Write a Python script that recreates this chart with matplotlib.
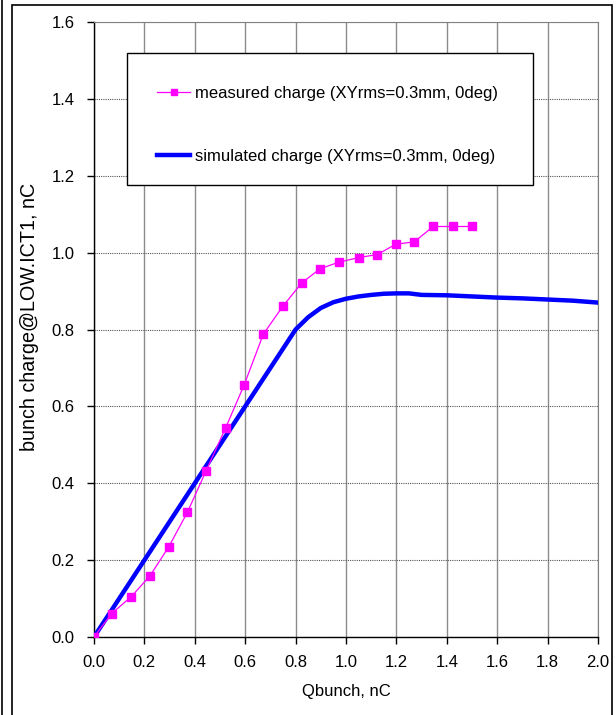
import matplotlib.pyplot as plt
from matplotlib.patches import Rectangle
from matplotlib.lines import Line2D

plt.rcParams['font.family'] = ['Liberation Sans', 'DejaVu Sans']

# measured charge
q_meas = [0.0, 0.07, 0.148, 0.222, 0.297, 0.371, 0.444, 0.523, 0.596, 0.672, 0.750,
          0.824, 0.897, 0.971, 1.050, 1.124, 1.198, 1.271, 1.346, 1.426, 1.499]
c_meas = [0.0, 0.061, 0.105, 0.159, 0.235, 0.325, 0.431, 0.545, 0.656, 0.788, 0.861,
          0.921, 0.958, 0.975, 0.987, 0.995, 1.022, 1.028, 1.068, 1.068, 1.068]

# simulated charge
q_sim = [0.0, 0.2, 0.4, 0.6, 0.8, 0.85, 0.9, 0.95, 1.0, 1.05, 1.1, 1.15, 1.2, 1.25,
         1.3, 1.4, 1.5, 1.6, 1.7, 1.8, 1.9, 2.0]
c_sim = [0.0, 0.2, 0.4, 0.6, 0.8, 0.832, 0.856, 0.871, 0.880, 0.886, 0.890, 0.893,
         0.894, 0.894, 0.890, 0.889, 0.886, 0.883, 0.881, 0.878, 0.875, 0.870]

fs = 12
fig = plt.figure(figsize=(6.16, 7.15), dpi=100)
ax = fig.add_axes([94/616, 1-637/715, 504/616, 615/715])

ax.plot(q_meas, c_meas, color='#FF00FF', lw=0.9, marker='s', ms=5.5,
        label='measured charge (XYrms=0.3mm, 0deg)', zorder=4)
ax.plot(q_sim, c_sim, color='#0000FF', lw=3.2,
        label='simulated charge (XYrms=0.3mm, 0deg)', zorder=3)

ax.set_xlim(0, 2.0)
ax.set_ylim(0, 1.6)
ax.set_xticks([i*0.2 for i in range(11)])
ax.set_yticks([i*0.2 for i in range(9)])
ax.set_xticklabels(['%.1f' % (i*0.2) for i in range(11)])
ax.set_yticklabels(['%.1f' % (i*0.2) for i in range(9)])
ax.tick_params(labelsize=fs, direction='out', length=5, width=1)
ax.tick_params(axis='x', pad=8)
ax.tick_params(axis='y', pad=9)
ax.xaxis.grid(True, color='#8c8c8c', lw=1)
ax.yaxis.grid(True, color='#555555', lw=0.8, linestyle=(0, (1, 1)))
ax.set_axisbelow(True)
for s in ['top', 'right']:
    ax.spines[s].set_color('#808080')
for s in ['left', 'bottom']:
    ax.spines[s].set_color('black')
    ax.spines[s].set_linewidth(1)

ax.set_xlabel('Qbunch, nC', fontsize=fs, labelpad=10)
ax.set_ylabel('bunch charge@LOW.ICT1, nC', fontsize=14.2)
ax.yaxis.set_label_coords(-0.109, 0.52)

# legend box
ax.add_patch(Rectangle((127/616, 1-185/715), 406/616, 132/715, transform=fig.transFigure,
                       facecolor='white', edgecolor='black', lw=1, zorder=5))
h1 = Line2D([], [], color='#FF00FF', lw=0.9, marker='s', ms=4)
h2 = Line2D([], [], color='#0000FF', lw=3.2)
leg = ax.legend([h1, h2], ['measured charge (XYrms=0.3mm, 0deg)', 'simulated charge (XYrms=0.3mm, 0deg)'],
                loc='center left', bbox_to_anchor=(157/616, 1-125/715), bbox_transform=fig.transFigure,
                frameon=False, fontsize=fs, handlelength=2.0, handletextpad=0.3,
                labelspacing=2.85, borderpad=0, borderaxespad=0)
leg.set_zorder(6)

# outer frames
fig.add_artist(Rectangle((12/616, -0.01), 600/616, 1-5/715+0.01, transform=fig.transFigure,
                         fill=False, edgecolor='black', lw=1.2))
fig.add_artist(Line2D([2/616, 2/616], [0, 1], transform=fig.transFigure, color='black', lw=1.2))

fig.savefig('out.png', dpi=100)
